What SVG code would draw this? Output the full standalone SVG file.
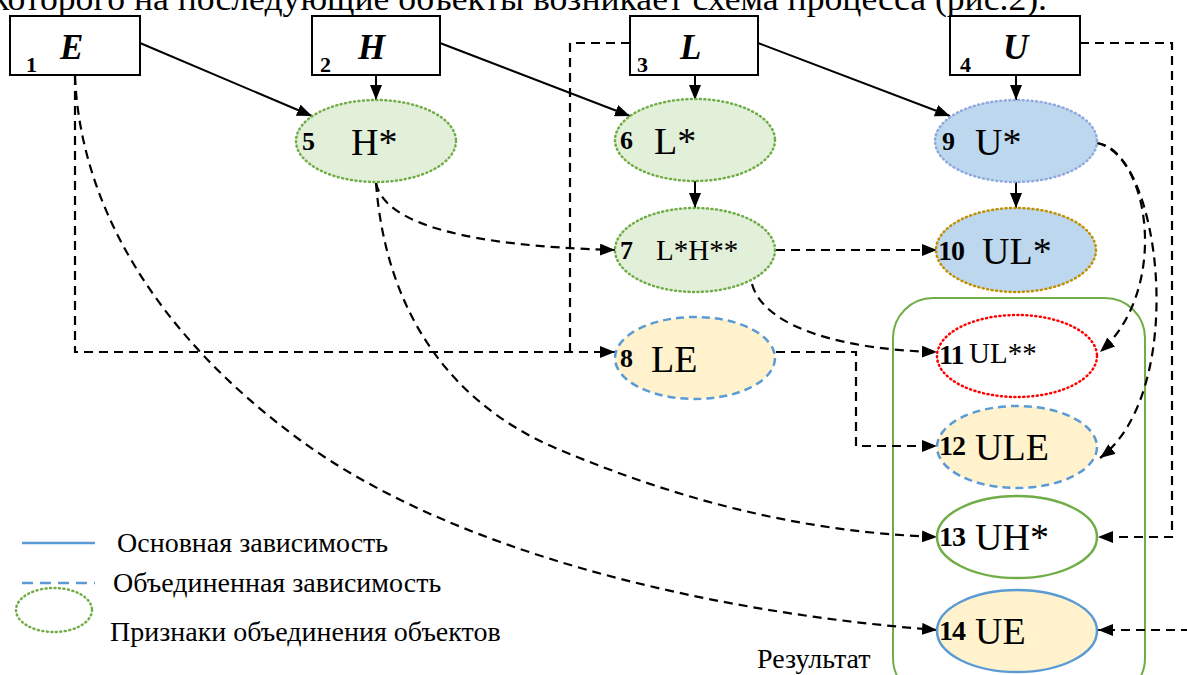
<svg xmlns="http://www.w3.org/2000/svg" width="1187" height="675" viewBox="0 0 1187 675">
  <defs>
    <marker id="arr" markerUnits="userSpaceOnUse" markerWidth="16" markerHeight="12" refX="15" refY="6" orient="auto">
      <path d="M0,0 L15,6 L0,12 z" fill="#000"/>
    </marker>
    <style>
      text { font-family: "Liberation Serif", "Times New Roman", serif; fill: #000; }
      .box { fill: #fff; stroke: #000; stroke-width: 2; }
      .bnum { font-weight: bold; font-size: 22px; }
      .num { font-weight: bold; font-size: 26px; }
      .num2 { font-weight: bold; font-size: 28px; letter-spacing: -1px; }
      .bl { font-weight: bold; font-style: italic; font-size: 35px; }
      .lab { font-size: 38px; }
      .labs { font-size: 29px; }
      .leg { font-size: 28px; }
      .solid { fill: none; stroke: #000; stroke-width: 2; marker-end: url(#arr); }
      .dash { fill: none; stroke: #000; stroke-width: 2.2; stroke-dasharray: 9 6; }
      .dasha { fill: none; stroke: #000; stroke-width: 2.2; stroke-dasharray: 9 6; marker-end: url(#arr); }
      .gdot { stroke: #70ad47; stroke-width: 2.5; stroke-dasharray: 1 3.5; stroke-linecap: round; }
    </style>
  </defs>
  <rect width="1187" height="675" fill="#fff"/>

  <!-- running text line above the figure -->
  <text x="-8" y="10" font-size="34" textLength="1055" lengthAdjust="spacingAndGlyphs">которого на последующие объекты возникает схема процесса (рис.2).</text>

  <!-- result frame -->
  <g id="result">
    <rect x="893" y="298" width="252" height="400" rx="40" ry="40" fill="none" stroke="#70ad47" stroke-width="2"/>
    <text x="757" y="668" font-size="28">Результат</text>
  </g>

  <!-- connectors -->
  <g id="connectors">
    <!-- base dependencies -->
    <path class="solid" d="M140,43 L312,116"/>
    <path class="solid" d="M376,75 L376,100"/>
    <path class="solid" d="M440,43 L630,116"/>
    <path class="solid" d="M695,75 L695,100"/>
    <path class="solid" d="M758,43 L950,116"/>
    <path class="solid" d="M1016,75 L1016,100"/>
    <path class="solid" d="M695,181 L695,208"/>
    <path class="solid" d="M1016,182 L1016,208"/>

    <!-- combined dependencies -->
    <path class="dasha" d="M376,183 C385,225 470,246 615,250"/>
    <path class="dasha" d="M376,183 C385,300 440,400 560,450 C680,500 800,532 937,537"/>
    <path class="dasha" d="M75,76 C80,200 150,330 300,440 C450,550 700,612 937,630"/>
    <path class="dasha" d="M75,76 L75,352 L615,352"/>
    <path class="dash" d="M630,43 L570,43 L570,352"/>
    <path class="dasha" d="M776,250 L937,250"/>
    <path class="dasha" d="M752,284 C765,330 850,350 937,352"/>
    <path class="dasha" d="M776,352 L856,352 L856,446 L937,446"/>
    <path class="dasha" d="M1097,143 C1150,155 1170,290 1100,352"/>
    <path class="dasha" d="M1097,143 C1160,150 1190,390 1100,458"/>
    <path class="dasha" d="M1080,43 L1172,43 L1172,537 L1098,537"/>
    <path class="dasha" d="M1190,630 L1098,630"/>
  </g>

  <!-- source boxes -->
  <g id="n1">
    <rect class="box" x="10" y="16" width="130" height="59"/>
    <text class="bnum" x="26" y="72">1</text>
    <text class="bl" x="60" y="59">E</text>
  </g>
  <g id="n2">
    <rect class="box" x="312" y="16" width="128" height="59"/>
    <text class="bnum" x="320" y="72">2</text>
    <text class="bl" x="358" y="59">H</text>
  </g>
  <g id="n3">
    <rect class="box" x="630" y="16" width="128" height="59"/>
    <text class="bnum" x="637" y="72">3</text>
    <text class="bl" x="680" y="59">L</text>
  </g>
  <g id="n4">
    <rect class="box" x="950" y="16" width="130" height="59"/>
    <text class="bnum" x="960" y="72">4</text>
    <text class="bl" x="1003" y="59">U</text>
  </g>

  <!-- derived objects -->
  <g id="n5">
    <ellipse class="gdot" fill="#e2efd9" cx="376" cy="141" rx="80" ry="41"/>
    <text class="num" x="302" y="150">5</text>
    <text class="lab" x="351" y="155">H*</text>
  </g>
  <g id="n6">
    <ellipse class="gdot" fill="#e2efd9" cx="695" cy="140" rx="80" ry="41"/>
    <text class="num" x="620" y="149">6</text>
    <text class="lab" x="654" y="154">L*</text>
  </g>
  <g id="n7">
    <ellipse class="gdot" fill="#e2efd9" cx="695" cy="250" rx="80" ry="42"/>
    <text class="num" x="620" y="259">7</text>
    <text class="labs" x="656" y="260">L*H**</text>
  </g>
  <g id="n8">
    <ellipse cx="695" cy="358" rx="80" ry="41" fill="#fff2cc" stroke="#5b9bd5" stroke-width="2.5" stroke-dasharray="8 5"/>
    <text class="num" x="620" y="367">8</text>
    <text class="lab" x="651" y="372">LE</text>
  </g>
  <g id="n9">
    <ellipse cx="1016" cy="141" rx="81" ry="41" fill="#bdd7ee" stroke="#8faadc" stroke-width="2.5" stroke-dasharray="1 3.5" stroke-linecap="round"/>
    <text class="num" x="942" y="150">9</text>
    <text class="lab" x="975" y="155">U*</text>
  </g>
  <g id="n10">
    <ellipse cx="1016" cy="250" rx="80" ry="42" fill="#bdd7ee" stroke="#bf9000" stroke-width="2.5" stroke-dasharray="1 3.5" stroke-linecap="round"/>
    <text class="num2" x="938" y="260">10</text>
    <text class="lab" x="982" y="264">UL*</text>
  </g>
  <g id="n11">
    <ellipse cx="1017" cy="356" rx="80" ry="41" fill="#fff" stroke="#ff0000" stroke-width="2.5" stroke-dasharray="1 3.5" stroke-linecap="round"/>
    <text class="num2" x="939" y="364">11</text>
    <text class="labs" x="969" y="363">UL**</text>
  </g>
  <g id="n12">
    <ellipse cx="1017" cy="447" rx="80" ry="41" fill="#fff2cc" stroke="#5b9bd5" stroke-width="2.5" stroke-dasharray="8 5"/>
    <text class="num2" x="939" y="455">12</text>
    <text class="lab" x="975" y="460">ULE</text>
  </g>
  <g id="n13">
    <ellipse cx="1017" cy="537" rx="80" ry="41" fill="#fff" stroke="#70ad47" stroke-width="2.5"/>
    <text class="num2" x="939" y="546">13</text>
    <text class="lab" x="975" y="550">UH*</text>
  </g>
  <g id="n14">
    <ellipse cx="1017" cy="631" rx="80" ry="41" fill="#fff2cc" stroke="#5b9bd5" stroke-width="2.5"/>
    <text class="num2" x="939" y="640">14</text>
    <text class="lab" x="975" y="644">UE</text>
  </g>

  <!-- legend -->
  <g id="legend">
    <line x1="22" y1="543" x2="95" y2="543" stroke="#5b9bd5" stroke-width="2.5"/>
    <text class="leg" x="117" y="552">Основная зависимость</text>
    <line x1="22" y1="583" x2="95" y2="583" stroke="#5b9bd5" stroke-width="2.5" stroke-dasharray="11 7"/>
    <text class="leg" x="113" y="592">Объединенная зависимость</text>
    <ellipse class="gdot" fill="none" cx="54" cy="610" rx="38" ry="22"/>
    <text class="leg" x="110" y="641" font-size="29">Признаки объединения объектов</text>
  </g>
</svg>
